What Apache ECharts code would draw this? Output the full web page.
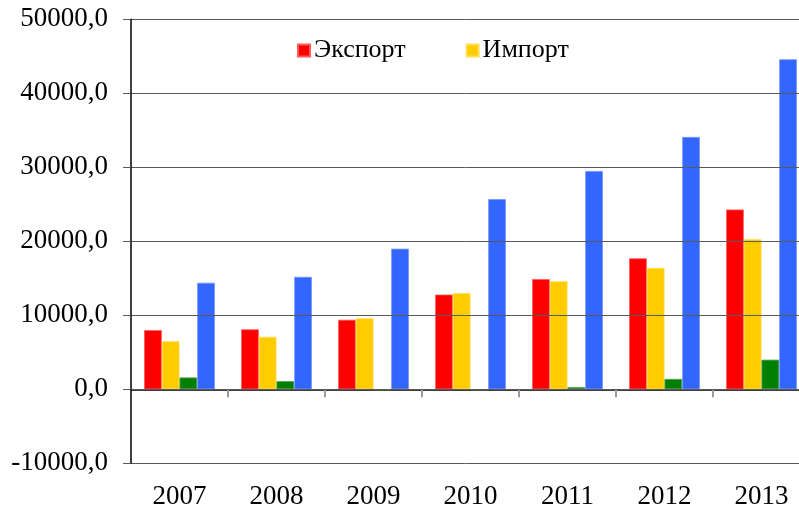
<!DOCTYPE html>
<html>
<head>
<meta charset="utf-8">
<script src="https://cdn.jsdelivr.net/npm/echarts@6/dist/echarts.min.js"></script>
<style>
  html, body { margin: 0; padding: 0; background: #fff; }
  #main { width: 799px; height: 510px; }
</style>
</head>
<body>
<div id="main"></div>
<script>
// данные по годам
const years = ["2007", "2008", "2009", "2010", "2011", "2012", "2013"];
const exportVals = [8000, 8100, 9400, 12800, 14900, 17700, 24300];
const importVals = [6500, 7100, 9600, 13000, 14600, 16400, 20300];
const saldoVals = [1600, 1100, -100, -100, 300, 1400, 4000];
const turnoverVals = [14400, 15200, 19000, 25700, 29500, 34100, 44600];
const yTicks = { min: -10000, max: 50000, step: 10000 };

const FONT = '"Liberation Serif", "Times New Roman", serif';

const chart = echarts.init(document.getElementById("main"));

const bar = (name, data, color, edge) => ({
  name: name,
  type: "bar",
  xAxisIndex: 0,
  data: data,
  barGap: "0%",
  barCategoryGap: "27%",
  itemStyle: { color: color, borderColor: edge, borderWidth: 0.8 },
  animation: false
});

chart.setOption({
  animation: false,
  textStyle: { fontFamily: FONT, color: "#000" },
  grid: {
    left: 131, top: 19.3, width: 679, height: 444,
    containLabel: false, outerBoundsMode: "none"
  },
  legend: {
    data: ["Экспорт", "Импорт"],
    left: 297,
    top: 37.5,
    padding: 0,
    icon: "rect",
    itemWidth: 12,
    itemHeight: 12,
    itemGap: 60,
    textStyle: { fontFamily: FONT, fontSize: 26, color: "#000", padding: [0, 0, 0, -1] }
  },
  xAxis: [
    {
      type: "category",
      data: years,
      position: "bottom",
      axisLine: { show: false, onZero: false },
      axisTick: { show: false },
      axisLabel: { fontFamily: FONT, fontSize: 27, color: "#000", margin: 20 }
    },
    {
      type: "category",
      data: years,
      position: "bottom",
      axisLine: { show: true, onZero: true, lineStyle: { color: "#000", width: 1.5 } },
      axisTick: {
        show: true, length: 8,
        interval: (i) => i > 0,
        lineStyle: { color: "#9a9a9a", width: 2 }
      },
      axisLabel: { show: false }
    }
  ],
  yAxis: {
    type: "value",
    min: yTicks.min,
    max: yTicks.max,
    interval: yTicks.step,
    z: 5,
    axisLine: { show: true, lineStyle: { color: "#000", width: 1.5 } },
    axisTick: { show: true, length: 8, lineStyle: { color: "#595959" } },
    splitLine: { lineStyle: { color: "#595959", width: 1 } },
    axisLabel: {
      fontFamily: FONT,
      fontSize: 27,
      color: "#000",
      margin: 23,
      formatter: (v) => v.toFixed(1).replace(".", ",")
    }
  },
  series: [
    bar("Экспорт", exportVals, "#FF0000", "#ff5a5a"),
    bar("Импорт", importVals, "#FFCC00", "#ffdd55"),
    bar("Сальдо", saldoVals, "#008000", "#4ca04c"),
    bar("Оборот", turnoverVals, "#3366FF", "#7494ff")
  ]
});
</script>
</body>
</html>
